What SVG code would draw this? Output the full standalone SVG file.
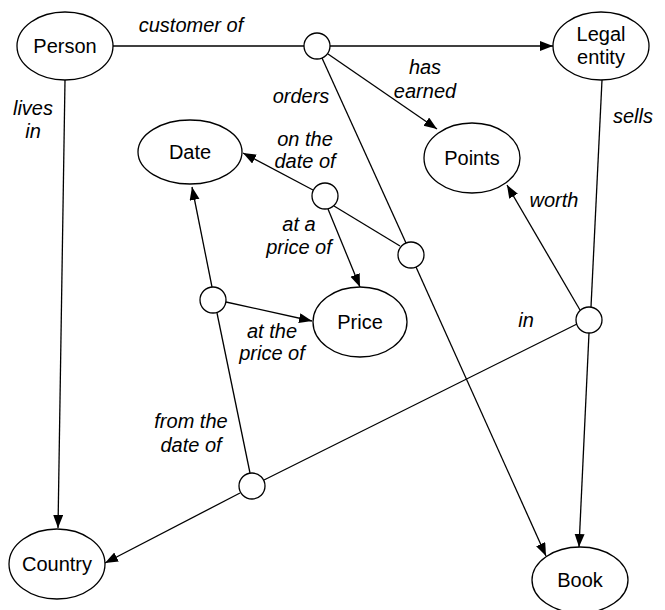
<svg xmlns="http://www.w3.org/2000/svg" width="665" height="610" viewBox="0 0 665 610">
<style>
.n{fill:#fff;stroke:#000;stroke-width:1.3}
.e{stroke:#000;stroke-width:1.3;fill:none}
.a{marker-end:url(#arr)}
.t{font-family:"Liberation Sans",Arial,sans-serif;font-size:20px;fill:#000;text-anchor:middle}
.l{font-family:"Liberation Sans",Arial,sans-serif;font-size:20px;font-style:italic;fill:#000;text-anchor:middle}
</style>
<defs>
<marker id="arr" markerUnits="userSpaceOnUse" markerWidth="14" markerHeight="12" refX="13" refY="5" orient="auto">
<path d="M0,0 L13,5 L0,10 z" fill="#000"/>
</marker>
</defs>
<g id="connectors">
<line class="e" x1="113" y1="46" x2="304" y2="46"/>
<line class="e a" x1="330" y1="46" x2="553" y2="46"/>
<line class="e a" x1="328" y1="54" x2="437" y2="129"/>
<line class="e" x1="322" y1="58" x2="406" y2="243"/>
<line class="e a" x1="416" y1="267" x2="546" y2="556"/>
<line class="e a" x1="65" y1="80" x2="58" y2="528"/>
<line class="e" x1="400" y1="246" x2="334" y2="206"/>
<line class="e a" x1="313" y1="190" x2="243" y2="153"/>
<line class="e a" x1="328" y1="209" x2="360" y2="287"/>
<line class="e a" x1="212" y1="287" x2="192" y2="187"/>
<line class="e a" x1="226" y1="302" x2="312" y2="321"/>
<line class="e" x1="250" y1="473" x2="217" y2="313"/>
<line class="e" x1="577" y1="324" x2="264" y2="480"/>
<line class="e a" x1="240" y1="493" x2="105" y2="563"/>
<line class="e a" x1="580" y1="310" x2="507" y2="185"/>
<line class="e" x1="602" y1="80" x2="591" y2="307"/>
<line class="e a" x1="589" y1="333" x2="579" y2="547"/>
</g>
<g id="labels">
<text class="l" x="191" y="32">customer of</text>
<text class="l" x="301" y="103">orders</text>
<text class="l" x="33" y="115">lives</text>
<text class="l" x="33" y="138">in</text>
<text class="l" x="305" y="146">on the</text>
<text class="l" x="305" y="168">date of</text>
<text class="l" x="425" y="74">has</text>
<text class="l" x="425" y="98">earned</text>
<text class="l" x="633" y="123">sells</text>
<text class="l" x="554" y="207">worth</text>
<text class="l" x="299" y="231">at a</text>
<text class="l" x="299" y="254">price of</text>
<text class="l" x="272" y="338">at the</text>
<text class="l" x="272" y="360">price of</text>
<text class="l" x="526" y="327">in</text>
<text class="l" x="191" y="428">from the</text>
<text class="l" x="191" y="452">date of</text>
</g>
<g id="person"><ellipse class="n" cx="65" cy="46" rx="48" ry="34"/><text class="t" x="65" y="53">Person</text></g>
<g id="legal-entity"><ellipse class="n" cx="601" cy="46" rx="48" ry="34"/><text class="t" x="601" y="41">Legal</text><text class="t" x="601" y="64">entity</text></g>
<g id="date"><ellipse class="n" cx="190" cy="152" rx="52" ry="32"/><text class="t" x="190" y="159">Date</text></g>
<g id="points"><ellipse class="n" cx="472" cy="158" rx="48" ry="35"/><text class="t" x="472" y="165">Points</text></g>
<g id="price"><ellipse class="n" cx="360" cy="322" rx="47" ry="35"/><text class="t" x="360" y="329">Price</text></g>
<g id="country"><ellipse class="n" cx="57" cy="564" rx="48" ry="35"/><text class="t" x="57" y="571">Country</text></g>
<g id="book"><ellipse class="n" cx="580" cy="580" rx="48" ry="33"/><text class="t" x="580" y="587">Book</text></g>
<g id="c1"><circle class="n" cx="317" cy="46" r="13"/></g>
<g id="c2"><circle class="n" cx="325" cy="196" r="13"/></g>
<g id="c3"><circle class="n" cx="411" cy="255" r="13"/></g>
<g id="c4"><circle class="n" cx="213" cy="300" r="13"/></g>
<g id="c5"><circle class="n" cx="589" cy="320" r="13"/></g>
<g id="c6"><circle class="n" cx="252" cy="486" r="13"/></g>
</svg>
